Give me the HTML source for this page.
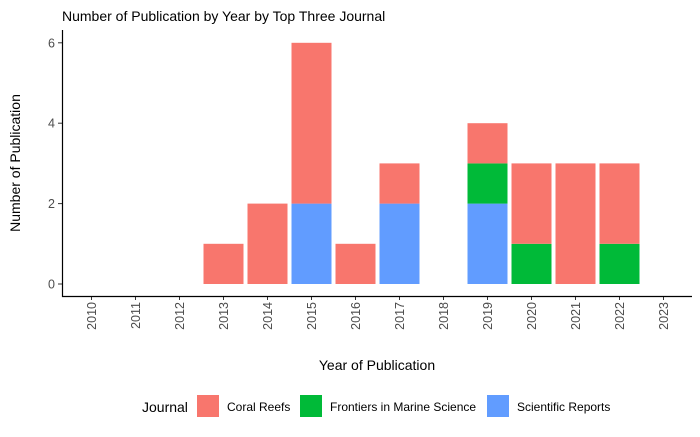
<!DOCTYPE html>
<html><head><meta charset="utf-8"><style>
body{margin:0;background:#fff;font-family:"Liberation Sans",Arial,sans-serif;}
svg text{font-family:"Liberation Sans",Arial,sans-serif;}
</style></head><body>
<svg id="c" width="700" height="432" xmlns="http://www.w3.org/2000/svg">
<text x="62" y="21" font-size="14" fill="#000">Number of Publication by Year by Top Three Journal</text>
<g id="plot"></g>
<text transform="translate(20,163) rotate(-90)" text-anchor="middle" font-size="14" fill="#000">Number of Publication</text>
<text x="377" y="370" text-anchor="middle" font-size="14" fill="#000">Year of Publication</text>
<g>
<text x="142" y="412" font-size="14" fill="#000">Journal</text>
<rect x="197" y="395" width="22" height="22" fill="#F8766D"/>
<text x="227" y="411" font-size="12" fill="#000">Coral Reefs</text>
<rect x="300" y="395" width="22" height="22" fill="#00BA38"/>
<text x="330" y="411" font-size="12" fill="#000">Frontiers in Marine Science</text>
<rect x="487" y="395" width="22" height="22" fill="#619CFF"/>
<text x="517" y="411" font-size="12" fill="#000">Scientific Reports</text>
</g>
</svg>
<script>
const years=[2010,2011,2012,2013,2014,2015,2016,2017,2018,2019,2020,2021,2022,2023];
const sciRep=[0,0,0,0,0,2,0,2,0,2,0,0,0,0];
const frontiers=[0,0,0,0,0,0,0,0,0,1,1,0,1,0];
const coral=[0,0,0,1,2,4,1,1,0,1,2,3,2,0];
const yTicks=[0,2,4,6];
const NS="http://www.w3.org/2000/svg";
const g=document.getElementById('plot');
const xS=i=>91.5+i*44;
const yS=v=>284-v*40.2;
const bw=40;
function mk(t,a){const e=document.createElementNS(NS,t);for(const k in a)e.setAttribute(k,a[k]);g.appendChild(e);return e;}
const series=[[sciRep,'#619CFF','scientific-reports'],[frontiers,'#00BA38','frontiers'],[coral,'#F8766D','coral-reefs']];
years.forEach((y,i)=>{
  let base=0;
  series.forEach(([arr,col,nm])=>{
    const v=arr[i];
    if(v>0){
      const r=mk('rect',{x:xS(i)-bw/2,y:yS(base+v),width:bw,height:yS(base)-yS(base+v),fill:col});
      
      
    }
    base+=v;
  });
  const t=mk('line',{x1:xS(i),x2:xS(i),y1:296,y2:300,stroke:'#333','stroke-width':1});
  
  
  const l=mk('text',{transform:`translate(${xS(i)+4.5},302) rotate(-90)`,'text-anchor':'end','font-size':12.5,fill:'#4d4d4d'});
  l.textContent=y;
  
  
});
yTicks.forEach(v=>{
  const t=mk('line',{x1:58,x2:62,y1:yS(v),y2:yS(v),stroke:'#333','stroke-width':1});
  
  
  const l=mk('text',{x:55,y:yS(v)+4.5,'text-anchor':'end','font-size':12.5,fill:'#4d4d4d'});
  l.textContent=v;
  
  
});
const ax=mk('path',{d:'M62.5,30 V296.5 H692',fill:'none',stroke:'#000','stroke-width':1.2});


</script>
</body></html>
